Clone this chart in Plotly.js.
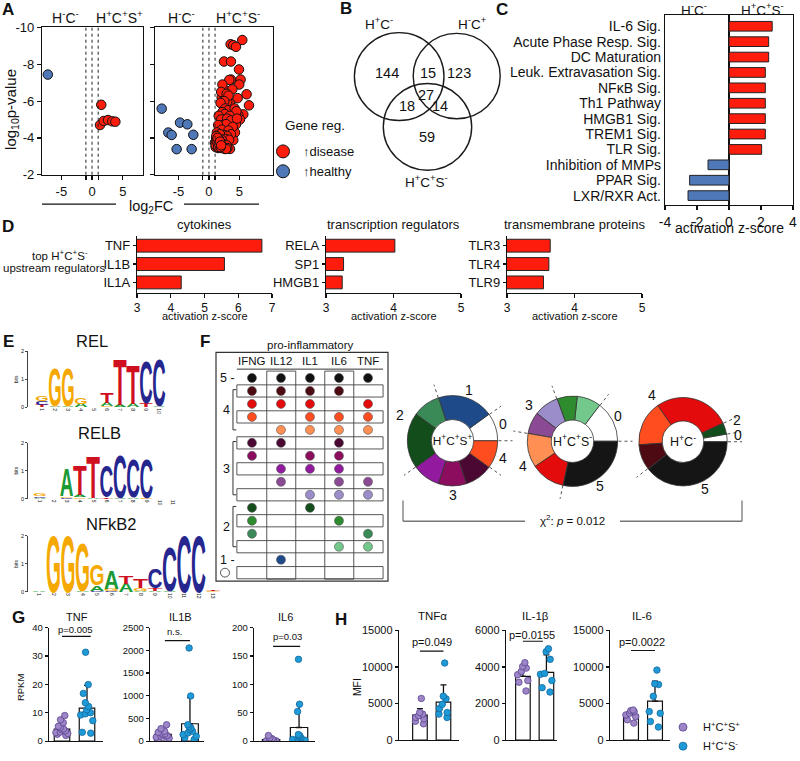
<!DOCTYPE html>
<html>
<head>
<meta charset="utf-8">
<script src="https://cdn.plot.ly/plotly-3.0.1.min.js"></script>
<style>html,body{margin:0;padding:0;background:#fff;}#fig{width:800px;height:761px;}</style>
</head>
<body>
<div id="fig"></div>
<script>
// ================= DATA =================
// A: volcano plots (x = log2FC, y = log10 p-value)
const aLeftRedFC = [1.5, 1.3, 1.9, 2.6, 3.3, 3.8];
const aLeftRedP = [-5.8, -4.7, -4.92, -4.97, -4.9, -4.88];
const aLeftBlueFC = [-7.2];
const aLeftBlueP = [-7.44];
const aRightBlueFC = [-7.75, -6.67, -6.12, -4.75, -3.55, -2.57, -5.3, -2.84];
const aRightBlueP = [-5.59, -4.29, -4.16, -4.83, -4.74, -4.17, -3.39, -3.39];
const aRightRedFC = [5.46,3.55,3.99,4.43,2.46,3.61,4.92,3.61,5.19,3.33,4.97,2.46,3.83,2.08,2.62,4.70,6.17,6.56,2.35,3.44,3.00,3.72,5.63,4.81,1.91,2.62,3.99,5.08,4.43,3.44,1.80,2.90,4.26,3.99,3.44,
  2.2,2.0,2.9,3.2,2.5,1.9,2.7,3.1,4.2,4.5,2.2,2.6,3.4,1.6,2.0,3.0,3.6,4.6,2.3,2.8,3.9,1.5,2.1,3.2,3.6,2.5,1.3,3.0,1.8,2.7,3.3,1.2,1.6,2.1,1.0,1.4,1.9,2.4,2.9,1.1,1.5,2.0,2.6,3.0,1.2,1.7,2.2,1.3,2.8,
  1.1,1.3,1.5,1.7,1.9,1.2,1.4,1.6,1.8,2.0];
const aRightRedP = [-9.32,-9.09,-9.04,-8.95,-8.15,-8.15,-7.72,-7.17,-7.17,-7.15,-6.9,-6.64,-6.64,-6.2,-6.2,-6.16,-6.37,-5.77,-5.77,-5.9,-5.98,-5.45,-5.28,-5.24,-5.09,-4.91,-5.0,-5.0,-4.74,-4.65,-4.56,-4.38,-4.29,-3.88,-3.4,
  -6.9,-6.5,-6.4,-6.3,-6.0,-5.9,-5.6,-5.5,-5.6,-5.45,-5.4,-5.3,-5.2,-5.2,-5.0,-5.05,-4.95,-5.05,-4.7,-4.75,-4.6,-4.7,-4.45,-4.4,-4.2,-4.15,-4.3,-4.1,-4.2,-3.95,-3.9,-4.0,-3.95,-3.9,-3.75,-3.7,-3.7,-3.65,-3.6,-3.5,-3.45,-3.45,-3.4,-3.45,-3.9,-3.6,-3.55,-3.55,-3.4,
  -3.6,-3.8,-3.5,-3.9,-3.5,-4.1,-4.0,-3.7,-3.8,-3.6];
const fcThresholds = [-1, 0, 1];

// B: Venn
const vennSetLabels = ['H<sup>+</sup>C<sup>-</sup>', 'H<sup>-</sup>C<sup>+</sup>', 'H<sup>+</sup>C<sup>+</sup>S<sup>-</sup>'];
const vennCounts = [144, 15, 123, 18, 27, 14, 59];

// C: canonical pathways
const cPathways = ['IL-6 Sig.', 'Acute Phase Resp. Sig.', 'DC Maturation', 'Leuk. Extravasation Sig.', 'NF\u03baB Sig.', 'Th1 Pathway', 'HMGB1 Sig.', 'TREM1 Sig.', 'TLR Sig.', 'Inhibition of MMPs', 'PPAR Sig.', 'LXR/RXR Act.'];
const cZ = [2.7, 2.48, 2.48, 2.27, 2.27, 2.27, 2.27, 2.27, 2.04, -1.31, -2.46, -2.56];

// D: upstream regulators
const dCytokines = ['TNF', 'IL1B', 'IL1A'];
const dCytokineZ = [6.7, 5.59, 4.31];
const dTransReg = ['RELA', 'SP1', 'HMGB1'];
const dTransRegZ = [4.02, 3.26, 3.24];
const dTransMem = ['TLR3', 'TLR4', 'TLR9'];
const dTransMemZ = [3.64, 3.62, 3.54];

// E: motif logos (letter, bits) stacked bottom->top per position
const logoREL = [
  [['T',0.08],['C',0.14],['G',0.2]], [['A',0.05],['G',1.35]], [['A',0.05],['G',1.35]], [['A',0.12],['G',0.22]], [],
  [['G',0.04],['A',0.13],['T',0.36]], [['A',0.1],['T',1.6]], [['A',0.12],['T',1.38]], [['T',0.15],['C',1.5]], [['A',0.05],['C',1.65]]
];
const logoRELB = [
  [['A',0.04],['C',0.04],['G',0.07]], [], [['C',0.04],['G',0.06],['A',0.95]], [['G',0.05],['A',0.08],['T',1.05]], [['A',0.04],['T',1.5]],
  [['T',0.06],['C',1.12]], [['A',0.04],['C',1.55]], [['A',0.05],['C',1.35]], [['G',0.04],['C',1.38]], [], []
];
const logoNFKB2 = [
  [['A',0.05]], [['G',2.0]], [['G',2.0]], [['A',0.03],['G',1.72]], [['C',0.03],['A',0.2],['G',0.72]], [['C',0.04],['G',0.08],['A',0.65]],
  [['A',0.3],['T',0.27]], [['A',0.05],['G',0.08],['T',0.33]], [['A',0.03],['T',0.1],['C',0.67]], [['A',0.03],['C',1.58]], [['C',2.0]], [['C',2.0]], [['G',0.03],['T',0.06]]
];

// F: cytokine combinations
const fCytokines = ['IFNG', 'IL12', 'IL1', 'IL6', 'TNF'];
const fPattern = [
  [1,1,1,1,1],
  [1,1,1,1,0],[1,1,1,0,1],[1,0,1,1,1],[0,1,1,1,1],
  [1,1,0,1,0],[1,0,1,1,0],[0,1,1,1,0],[0,1,0,1,1],[0,0,1,1,1],
  [1,0,1,0,0],[1,0,0,1,0],[1,0,0,0,1],[0,0,0,1,1],
  [0,1,0,0,0],
  [0,0,0,0,0]
];
const fRowColors = ['#111111','#4d0a12','#e30b0b','#ff4d1f','#ff8f52','#4a0833','#8c0d5e','#911a9e','#8b4a94','#9b8dc9','#144d1c','#2e8b2e','#3a8a58','#72c98b','#1f4a8a','#ffffff'];
const donut1Values = [1, 2, 1, 2, 1, 1, 1, 1];
const donut1Colors = ['#ffffff','#1f4a8a','#3a8a58','#144d1c','#911a9e','#8c0d5e','#4a0833','#ff4d1f'];
const donut1Groups = [0, 1, 2, 2, 3, 3, 3, 4];
const donut2Values = [53, 31, 26, 32, 28, 44, 44, 102];
const donut2Colors = ['#ffffff','#72c98b','#2e8b2e','#9b8dc9','#8b4a94','#ff8f52','#e30b0b','#151515'];
const donut2Groups = [0, 2, 2, 3, 3, 4, 4, 5];
const donut3Values = [10, 15, 100, 59, 34, 142];
const donut3Colors = ['#ffffff','#144d1c','#e30b0b','#ff4d1f','#4d0a12','#151515'];
const donut3Groups = [0, 2, 4, 4, 4, 5];

// G: RPKM (S+ purple, S- blue)
const gTnfSplus = [9.0,7.5,6.5,5.2,4.8,4.3,4.0,3.6,3.2,3.0,2.7,2.4,2.0];
const gTnfSminus = [31.3,19.9,16.8,13.5,12.2,11.0,10.0,9.6,9.2,7.2,3.1,2.8];
const gTnfBar = [4.2, 11.6], gTnfTop = [6.3, 19.6];
const gIl1bSplus = [360,274,216,194,180,158,144,122,108,86,65,36,14];
const gIl1bSminus = [2050,994,360,324,288,252,216,180,144,108,72,36];
const gIl1bBar = [150, 382], gIl1bTop = [230, 958];
const gIl6Splus = [9.8,5.8,4.0,2.9,1.7,1.2,0.6,0.5,0.2,0.1];
const gIl6Sminus = [144,65,52,11.5,9.8,7.5,5.8,4.0,2.9,1.7,0.6,0.2];
const gIl6Bar = [2.5, 24], gIl6Top = [4, 65];
// H: MFI
const hTnfSplus = [5700,3780,3560,3340,3100,2890,2580,2230];
const hTnfSminus = [10550,6010,5650,4900,4320,3780,3560,3100];
const hTnfBar = [3430, 5200], hTnfTop = [4320, 7560];
const hIl1bSplus = [4240,4030,3940,3760,3580,3260,3170,2690];
const hIl1bSminus = [5000,4840,4420,3650,3600,3260,2870,2630];
const hIl1bBar = [3490, 3710], hIl1bTop = [4060, 4660];
const hIl6Splus = [4120,4030,3900,3670,3450,3220,2780,2330];
const hIl6Sminus = [9580,7700,7610,6000,3900,3670,2550,1790];
const hIl6Bar = [3450, 5330], hIl6Top = [4210, 8060];

// ================= HELPERS / STYLE =================
const W = 800, H = 761;
const FONT = 'Liberation Sans, Arial, Helvetica, sans-serif';
const RED = '#fe1d0d', BLUE = '#4f78b8';
const PURPLE = '#9d85c8', PURPLE_EDGE = '#5a4690', CYAN = '#1e9bd7', CYAN_EDGE = '#15679e';
const LOGO_COLORS = {A:'#1b9a36', C:'#26268f', G:'#f5a800', T:'#cf1020'};
const LETTER_SIZE = 30;
const pxX = (a, b) => [a / W, b / W];
const pxY = (t, b) => [1 - b / H, 1 - t / H];
const P = x => x / W, Q = y => 1 - y / H;

const traces = [], annotations = [], shapes = [];
const letterSpecs = {};

function txt(x, y, text, size, extra) {
  annotations.push(Object.assign({xref:'paper', yref:'paper', x:P(x), y:Q(y), text:text, showarrow:false,
    xanchor:'center', yanchor:'middle', font:{family:FONT, size:size, color:'#111'}}, extra || {}));
}
function tf(size) { return {family:FONT, size:size, color:'#111'}; }
function baseAxis(extra) {
  return Object.assign({showgrid:false, zeroline:false, showline:true, linecolor:'#111', linewidth:1.2,
    ticks:'outside', tickcolor:'#111', tickwidth:1.2, ticklen:4, fixedrange:true, tickfont:tf(12)}, extra);
}
function pline(x0, y0, x1, y1, color, width, dash) {
  shapes.push({type:'line', xref:'paper', yref:'paper', x0:P(x0), y0:Q(y0), x1:P(x1), y1:Q(y1),
    line:{color:color || '#111', width:width || 1.2, dash:dash || 'solid'}});
}

const layout = {width:W, height:H, margin:{l:0, r:0, t:0, b:0}, paper_bgcolor:'#fff', plot_bgcolor:'rgba(0,0,0,0)',
  font:{family:FONT, color:'#111'}, showlegend:true, annotations:annotations, shapes:shapes,
  legend:{x:P(263), y:Q(139), xanchor:'left', yanchor:'top', bgcolor:'rgba(0,0,0,0)', font:tf(13), itemsizing:'trace', tracegroupgap:0, traceorder:'normal'},
  legend2:{x:P(663), y:Q(726), xanchor:'left', yanchor:'top', bgcolor:'rgba(0,0,0,0)', font:tf(11), itemsizing:'trace', tracegroupgap:0, traceorder:'normal'}
};

// ================= PANEL A =================
const aTick = {tickvals:[-5,-1,0,1,5], ticktext:['-5','','0','','5'], tickfont:tf(13)};
layout.xaxis = baseAxis(Object.assign({domain:pxX(42,143), range:[-8.15,8.3], mirror:true, anchor:'y'}, aTick));
layout.yaxis = baseAxis({domain:pxY(28,178), range:[-2,-10], tickvals:[-10,-8,-6,-4,-2], ticktext:['-10','-8','-6','-4','-2'], mirror:true, anchor:'x', tickfont:tf(13)});
layout.xaxis2 = baseAxis(Object.assign({domain:pxX(155,273), range:[-8.85,10.5], mirror:true, anchor:'y2'}, aTick));
layout.yaxis2 = baseAxis({domain:pxY(28,178), range:[-2,-10], tickvals:[-10,-8,-6,-4,-2], showticklabels:false, mirror:true, anchor:'x2'});
function volcano(x, y, color, xa, ya) {
  traces.push({type:'scatter', mode:'markers', x:x, y:y, xaxis:xa, yaxis:ya, showlegend:false, hoverinfo:'skip', cliponaxis:false,
    marker:{size:9.5, color:color, line:{color:'#111', width:1}}});
}
volcano(aLeftBlueFC, aLeftBlueP, BLUE, 'x', 'y');
volcano(aLeftRedFC, aLeftRedP, RED, 'x', 'y');
volcano(aRightBlueFC, aRightBlueP, BLUE, 'x2', 'y2');
volcano(aRightRedFC, aRightRedP, RED, 'x2', 'y2');
['x', 'x2'].forEach(xa => fcThresholds.forEach(t => shapes.push({type:'line', xref:xa, yref:(xa === 'x' ? 'y' : 'y2') + ' domain',
  x0:t, x1:t, y0:0, y1:1, line:{color:'#222', width:1, dash:'dot'}})));
// legend-only entries
[['<b>\u2191</b>disease', RED], ['<b>\u2191</b>healthy', BLUE]].forEach(([n, c]) => traces.push({type:'scatter', mode:'markers', x:[null], y:[null],
  xaxis:'x', yaxis:'y', name:n, legend:'legend', showlegend:true, marker:{size:13, color:c, line:{color:'#111', width:1}}}));
txt(283, 128, 'Gene reg.', 13.5, {xanchor:'left'});
txt(65, 17, 'H<sup>-</sup>C<sup>-</sup>', 14);
txt(119, 17, 'H<sup>+</sup>C<sup>+</sup>S<sup>+</sup>', 14);
txt(181, 17, 'H<sup>-</sup>C<sup>-</sup>', 14);
txt(237.5, 17, 'H<sup>+</sup>C<sup>+</sup>S<sup>-</sup>', 14);
txt(12, 112, 'log<sub>10</sub>p-value', 15, {textangle:-90});
txt(150.5, 211, 'log<sub>2</sub>FC', 14.5);
pline(42, 208, 116, 208, '#111', 1.3);
pline(184, 208, 259, 208, '#111', 1.3);

// ================= PANEL B =================
const vennCircles = [[399.2, 78, 44.8], [456.7, 77.5, 43.5], [427.5, 129.2, 44.2]];
vennCircles.forEach(([cx, cy, r]) => shapes.push({type:'circle', xref:'paper', yref:'paper', x0:P(cx - r), x1:P(cx + r), y0:Q(cy + r), y1:Q(cy - r), line:{color:'#1a1a1a', width:1.4}}));
const vennLabelPos = [[379, 23], [472, 23], [426, 184]];
vennSetLabels.forEach((l, i) => txt(vennLabelPos[i][0], vennLabelPos[i][1], l, 13.5));
const vennCountPos = [[387, 74], [427.5, 74], [459, 74], [406.5, 108], [425.5, 97], [440, 108], [427, 140]];
vennCounts.forEach((c, i) => txt(vennCountPos[i][0], vennCountPos[i][1], String(c), 14.5));

// ================= PANEL C =================
layout.xaxis3 = baseAxis({domain:pxX(665,793), range:[-4,4], tickvals:[-4,-2,0,2,4], ticktext:['-4','-2','0','2','4'], mirror:true, anchor:'y3',
  zeroline:true, zerolinecolor:'#111', zerolinewidth:1.2, tickfont:tf(14)});
layout.yaxis3 = baseAxis({domain:pxY(15,209), type:'category', range:[11.62,-0.75], ticks:'', mirror:true, anchor:'x3', tickfont:tf(14),
  tickmode:'array', tickvals:cPathways, ticktext:cPathways});
traces.push({type:'bar', orientation:'h', x:cZ, y:cPathways, xaxis:'x3', yaxis:'y3', width:0.63, showlegend:false, hoverinfo:'skip',
  marker:{color:cZ.map(v => v > 0 ? RED : BLUE), line:{color:'#222', width:1}}});
txt(694, 9, 'H<sup>-</sup>C<sup>-</sup>', 13.5);
txt(762, 9, 'H<sup>+</sup>C<sup>+</sup>S<sup>-</sup>', 13.5);
txt(729, 232.5, 'activation z-score', 14);

// ================= PANEL D =================
const dPanels = [
  {cats:dCytokines, vals:dCytokineZ, dom:[137,272], range:[3,7], ticks:[3,4,5,6,7], title:'cytokines'},
  {cats:dTransReg, vals:dTransRegZ, dom:[326,461], range:[3,5], ticks:[3,4,5], title:'transcription regulators'},
  {cats:dTransMem, vals:dTransMemZ, dom:[507,642], range:[3,5], ticks:[3,4,5], title:'transmembrane proteins'}
];
dPanels.forEach((d, i) => {
  const n = 4 + i;
  layout['xaxis' + n] = baseAxis({domain:pxX(d.dom[0], d.dom[1]), range:d.range, tickvals:d.ticks, anchor:'y' + n, tickfont:tf(12)});
  layout['yaxis' + n] = baseAxis({domain:pxY(240,298), type:'category', range:[2.55,-0.55], ticklen:3, anchor:'x' + n, tickfont:tf(13),
    tickmode:'array', tickvals:d.cats, ticktext:d.cats});
  traces.push({type:'bar', orientation:'h', x:d.vals, y:d.cats, xaxis:'x' + n, yaxis:'y' + n, width:0.7, showlegend:false, hoverinfo:'skip',
    marker:{color:RED, line:{color:'#222', width:1}}});
  const cx = (d.dom[0] + d.dom[1]) / 2;
  txt(cx, 228.5, d.title, 13);
  txt(cx, 322, 'activation z-score', 11);
});
txt(60, 260, 'top H<sup>+</sup>C<sup>+</sup>S<sup>-</sup>', 11.5);
txt(54, 273, 'upstream regulators', 11.5);

// ================= PANEL E =================
const logos = [
  {stack:logoREL, n:7, dom:[28,165.5], range:[-0.08,10.5], ydom:[358,415], title:'REL', tpos:[92,347.5]},
  {stack:logoRELB, n:8, dom:[28,179.6], range:[0.1,11.5], ydom:[451,508], title:'RELB', tpos:[99.5,441]},
  {stack:logoNFKB2, n:9, dom:[28,220.3], range:[0.24,13.5], ydom:[546,603], title:'NFkB2', tpos:[111,534]}
];
logos.forEach(lg => {
  const n = lg.n, positions = lg.stack.map((_, i) => i + 1);
  layout['xaxis' + n] = {domain:pxX(lg.dom[0], lg.dom[1]), range:lg.range, showline:false, zeroline:false, showgrid:false, ticks:'',
    tickvals:positions, tickangle:90, tickfont:tf(5), anchor:'y' + n, fixedrange:true};
  layout['yaxis' + n] = {domain:pxY(lg.ydom[0], lg.ydom[1]), range:[0,2], showline:true, linecolor:'#111', linewidth:0.8, zeroline:false, showgrid:false,
    ticks:'outside', ticklen:2, tickwidth:0.8, tickcolor:'#111', tickvals:[0,1,2], tickfont:tf(5.5), anchor:'x' + n, fixedrange:true,
    title:{text:'bits', font:tf(5), standoff:2}};
  traces.push({type:'scatter', mode:'none', x:positions, y:lg.stack.map(c => c.reduce((s, e) => s + e[1], 0)), xaxis:'x' + n, yaxis:'y' + n, showlegend:false, hoverinfo:'skip'});
  lg.stack.forEach((col, i) => {
    let y0 = 0;
    col.forEach(([L, h]) => {
      letterSpecs[annotations.length] = {xa:n, x:i + 1, y0:y0, h:h};
      annotations.push({xref:'x' + n, yref:'y' + n, x:i + 1, y:y0, text:L, showarrow:false, xanchor:'center', yanchor:'bottom',
        font:{family:FONT, size:LETTER_SIZE, weight:700, color:LOGO_COLORS[L]}});
      y0 += h;
    });
  });
  txt(lg.tpos[0], lg.tpos[1], lg.title, 16.5);
});

// ================= PANEL F (table) =================
layout.xaxis10 = {domain:pxX(216,388), range:[-0.24,5.69], visible:false, fixedrange:true, anchor:'y10'};
layout.yaxis10 = {domain:pxY(359,592), range:[15.65,-1.97], visible:false, fixedrange:true, anchor:'x10'};
const fx = [], fy = [], fc = [];
fPattern.forEach((row, r) => row.forEach((v, c) => { if (v) { fx.push(c + 1); fy.push(r); fc.push(fRowColors[r]); } }));
shapes.push({type:'rect', xref:'x10 domain', yref:'y10 domain', x0:0, x1:1, y0:0, y1:1, line:{color:'#333', width:1.2}});
fPattern.forEach((row, r) => { if (r % 2 === 1) shapes.push({type:'rect', xref:'x10', yref:'y10', x0:0.48, x1:5.52, y0:r - 0.47, y1:r + 0.47, line:{color:'#444', width:0.9}}); });
[2, 4].forEach(c => shapes.push({type:'rect', xref:'x10', yref:'y10', x0:c - 0.49, x1:c + 0.51, y0:-0.53, y1:15.5, line:{color:'#444', width:0.9}}));
shapes.push({type:'line', xref:'x10', yref:'y10', x0:0.48, x1:5.52, y0:-0.68, y1:-0.68, line:{color:'#333', width:1}});
[[1,4],[5,9],[10,13]].forEach(([r0, r1]) => shapes.push({type:'path', xref:'x10', yref:'y10',
  path:`M 0.46 ${r0 - 0.1} L 0.345 ${r0 - 0.1} L 0.345 ${r1} L 0.46 ${r1}`, line:{color:'#333', width:1}}));
shapes.push({type:'circle', xref:'x10', yref:'y10', x0:0.07 - 4.5 / 29, x1:0.07 + 4.5 / 29, y0:15 - 4.5 / 13.22, y1:15 + 4.5 / 13.22, line:{color:'#444', width:0.9}});
traces.push({type:'scatter', mode:'markers', x:fx, y:fy, xaxis:'x10', yaxis:'y10', showlegend:false, hoverinfo:'skip',
  marker:{size:9, color:fc, line:{color:'#555', width:0.6}}});
fCytokines.forEach((c, i) => annotations.push({xref:'x10', yref:'y10', x:i + 1, y:-1.3, text:c, showarrow:false, font:tf(11.5)}));
[['5 -',0.17,0],['4',0.12,2.5],['3',0.12,7],['2',0.12,11.5],['1 -',0.17,14]].forEach(([t, x, y]) =>
  annotations.push({xref:'x10', yref:'y10', x:x, y:y, text:t, showarrow:false, font:tf(12.5)}));
txt(310, 351, 'pro-inflammatory', 11.5);

// donuts (first slice drawn counterclockwise starting at 3 o'clock)
const donutGeom = [[452.5, 449, 46], [572.5, 449.5, 46], [683, 450, 45]];
const donuts = [
  {v:donut1Values, c:donut1Colors, g:donut1Groups, t:'H<sup>+</sup>C<sup>+</sup>S<sup>+</sup>'},
  {v:donut2Values, c:donut2Colors, g:donut2Groups, t:'H<sup>+</sup>C<sup>+</sup>S<sup>-</sup>'},
  {v:donut3Values, c:donut3Colors, g:donut3Groups, t:'H<sup>+</sup>C<sup>-</sup>'}
];
donuts.forEach((d, k) => {
  const [cx, cy, r] = donutGeom[k];
  const total = d.v.reduce((s, v) => s + v, 0);
  traces.push({type:'pie', values:d.v, marker:{colors:d.c, line:{color:'#333', width:0.8}}, sort:false, direction:'counterclockwise',
    rotation:90 - d.v[0] / total * 360,
    hole:0.47, textinfo:'none', hoverinfo:'skip', showlegend:false, domain:{x:pxX(cx - r, cx + r), y:pxY(cy - r, cy + r)},
    title:{text:d.t, font:tf(12.5), position:'middle center'}});
  let cum = 0;
  d.v.forEach((v, i) => {
    const prev = d.g[(i - 1 + d.g.length) % d.g.length];
    if (d.g[i] !== prev) {
      const th = cum / total * 2 * Math.PI;
      pline(cx + r * Math.cos(th), cy - r * Math.sin(th), cx + (r + 14) * Math.cos(th), cy - (r + 14) * Math.sin(th), '#555', 1, 'dot');
    }
    cum += v;
  });
});
[[469,397,'1'],[503,432,'0'],[503,467,'4'],[453,504,'3'],[400,423,'2'],
 [529,413,'3'],[618,424,'0'],[523,475,'4'],[600,495,'5'],
 [652,402,'4'],[737,428,'2'],[738,443,'0'],[705,498,'5']].forEach(([x, y, t]) => txt(x, y, t, 14));
// chi-square bracket
pline(403, 510, 403, 531, '#777', 1.3); pline(403, 531, 525, 531, '#777', 1.3);
pline(620, 531, 742, 531, '#777', 1.3); pline(742, 531, 742, 510, '#777', 1.3);
txt(572, 529.5, '\u03c7<sup>2</sup>: <i>p</i> = 0.012', 11.5);

// ================= PANELS G / H =================
const dotPanels = [
  {n:11, s:gTnfSplus, m:gTnfSminus, bar:gTnfBar, top:gTnfTop, dom:[49,103], ydom:[639.3,755], xr:[-0.52,1.64], yr:[0,40], tv:[0,10,20,30,40], fs:9.5, title:'TNF', tpos:[77,629], p:'p=0.005', ppos:[75,641.7], py:36.9, px:[0,1.15], tsz:11, psz:9.5},
  {n:12, s:gIl1bSplus, m:gIl1bSminus, bar:gIl1bBar, top:gIl1bTop, dom:[150,204], ydom:[639.3,755], xr:[-0.48,1.52], yr:[0,2500], tv:[0,500,1000,1500,2000,2500], fs:9.5, title:'IL1B', tpos:[180,629], p:'n.s.', ppos:[174,643.3], py:2210, px:[0.07,1], tsz:11, psz:9.5},
  {n:13, s:gIl6Splus, m:gIl6Sminus, bar:gIl6Bar, top:gIl6Top, dom:[254,315], ydom:[639.3,755], xr:[-0.61,1.57], yr:[0,200], tv:[0,50,100,150,200], fs:9.5, title:'IL6', tpos:[285,629], p:'p=0.03', ppos:[287,648.3], py:167, px:[0.07,1.04], tsz:11, psz:9.5},
  {n:14, s:hTnfSplus, m:hTnfSminus, bar:hTnfBar, top:hTnfTop, dom:[399,459], ydom:[642.3,754], xr:[-0.89,1.66], yr:[0,15000], tv:[0,5000,10000,15000], fs:11, title:'TNF\u03b1', tpos:[432,627.5], p:'p=0.049', ppos:[432,654.5], py:12180, px:[0,1], tsz:11.5, psz:11},
  {n:15, s:hIl1bSplus, m:hIl1bSminus, bar:hIl1bBar, top:hIl1bTop, dom:[506,557], ydom:[642.3,754], xr:[-0.72,1.45], yr:[0,6000], tv:[0,2000,4000,6000], fs:11, title:'IL-1\u03b2', tpos:[535,627.5], p:'p=0.0155', ppos:[532,646.5], py:5410, px:[0,0.85], tsz:11.5, psz:11},
  {n:16, s:hIl6Splus, m:hIl6Sminus, bar:hIl6Bar, top:hIl6Top, dom:[610,670], ydom:[642.3,754], xr:[-0.875,1.625], yr:[0,15000], tv:[0,5000,10000,15000], fs:11, title:'IL-6', tpos:[642,627.5], p:'p=0.0022', ppos:[642,654.5], py:12260, px:[0,1], tsz:11.5, psz:11}
];
dotPanels.forEach(d => {
  const n = d.n, xa = 'x' + n, ya = 'y' + n;
  layout['xaxis' + n] = baseAxis({domain:pxX(d.dom[0], d.dom[1]), range:d.xr, ticks:'', showticklabels:false, anchor:ya});
  layout['yaxis' + n] = baseAxis({domain:pxY(d.ydom[0], d.ydom[1]), range:d.yr, tickvals:d.tv, tickformat:'d', ticklen:3, anchor:xa, tickfont:tf(d.fs)});
  traces.push({type:'bar', x:[0, 1], y:d.bar, xaxis:xa, yaxis:ya, width:0.62, showlegend:false, hoverinfo:'skip',
    marker:{color:'#fff', line:{color:'#111', width:1.2}},
    error_y:{type:'data', symmetric:false, array:d.top.map((t, i) => t - d.bar[i]), arrayminus:[0, 0], color:'#111', thickness:1.3, width:3}});
  [[d.s, 0, PURPLE, PURPLE_EDGE], [d.m, 1, CYAN, CYAN_EDGE]].forEach(([vals, pos, col, edge]) => traces.push({type:'box', y:vals, x0:pos,
    xaxis:xa, yaxis:ya, boxpoints:'all', jitter:1, pointpos:0, width:0.6, fillcolor:'rgba(0,0,0,0)', line:{color:'rgba(0,0,0,0)', width:0},
    marker:{color:col, size:6.5, line:{color:edge, width:0.8}}, showlegend:false, hoverinfo:'skip'}));
  shapes.push({type:'line', xref:xa, yref:ya, x0:d.px[0], x1:d.px[1], y0:d.py, y1:d.py, line:{color:'#111', width:1.2}});
  txt(d.tpos[0], d.tpos[1], d.title, d.tsz);
  txt(d.ppos[0], d.ppos[1], d.p, d.psz);
});
txt(20, 700, 'RPKM', 9.5, {textangle:-90});
txt(357, 700, 'MFI', 10.5, {textangle:-90});
[['H<sup>+</sup>C<sup>+</sup>S<sup>+</sup>', PURPLE, PURPLE_EDGE], ['H<sup>+</sup>C<sup>+</sup>S<sup>-</sup>', CYAN, CYAN_EDGE]].forEach(([nm, c, e]) =>
  traces.push({type:'scatter', mode:'markers', x:[null], y:[null], xaxis:'x16', yaxis:'y16', name:nm, legend:'legend2', showlegend:true,
    marker:{size:8, color:c, line:{color:e, width:0.8}}}));

// panel letters
[['A',8,10],['B',346,9],['C',502,10],['D',8,231],['E',8,347.5],['F',205,348],['G',18,629],['H',341,631]].forEach(([t, x, y]) =>
  txt(x, y, '<b>' + t + '</b>', 17));

// ================= RENDER =================
function stretchLetters(gd) {
  const fl = gd._fullLayout;
  gd.querySelectorAll('g.annotation').forEach(g => {
    const spec = letterSpecs[g.getAttribute('data-index')];
    if (!spec) return;
    const t = g.querySelector('text');
    if (!t) return;
    const xa = fl['xaxis' + spec.xa], ya = fl['yaxis' + spec.xa];
    t.removeAttribute('transform');
    const bb = t.getBBox();
    const m = t.getCTM();
    const X = xa._offset + xa.l2p(spec.x) - m.e;
    const Yb = ya._offset + ya.l2p(spec.y0) - m.f;
    const Yt = ya._offset + ya.l2p(spec.y0 + spec.h) - m.f;
    const unit = Math.abs(xa.l2p(1) - xa.l2p(0));
    let base = parseFloat(t.getAttribute('y'));
    if (!isFinite(base)) base = bb.y + bb.height * 0.81;
    const cx = bb.x + bb.width / 2;
    const sx = unit * 0.95 / (bb.width * 0.92);
    const sy = Math.max(Yb - Yt, 0.05) / (0.70 * LETTER_SIZE);
    t.setAttribute('transform', `translate(${X},${Yb}) scale(${sx},${sy}) translate(${-cx},${-base})`);
  });
}
Plotly.newPlot('fig', traces, layout, {staticPlot:true, displayModeBar:false}).then(stretchLetters);
</script>
</body>
</html>
